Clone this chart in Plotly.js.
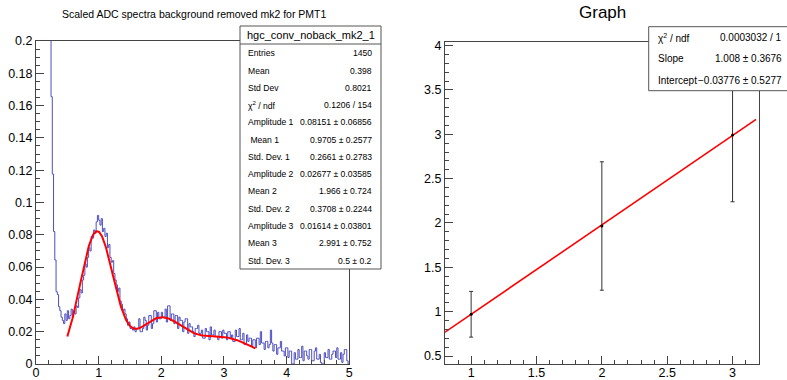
<!DOCTYPE html>
<html>
<head>
<meta charset="utf-8">
<script src="https://cdn.plot.ly/plotly-3.0.1.min.js"></script>
<style>html,body{margin:0;padding:0;background:#fff;}#chart{width:787px;height:380px;}</style>
</head>
<body>
<div id="chart"></div>
<script>
// ---------- Left panel: histogram (bin width 0.02 from 0 to 5) ----------
const binStart = 0;
const binWidth = 0.02;
const histCounts = [
  0.92,0.85,0.78,0.70,0.62,0.55,0.48,0.42,0.36,0.31,
  0.27,0.23,0.1655,0.1176,0.082,0.0644,0.0448,0.043,0.0355,0.033,
  0.029,0.027,0.025,0.031,0.027,0.033,0.028,0.030,0.034,0.029,
  0.033,0.031,0.036,0.035,0.041,0.046,0.044,0.052,0.055,0.062,
  0.060,0.066,0.072,0.070,0.079,0.078,0.083,0.081,0.088,0.092,
  0.089,0.086,0.090,0.082,0.084,0.079,0.081,0.072,0.074,0.066,
  0.063,0.064,0.056,0.052,0.049,0.045,0.047,0.039,0.037,0.033,
  0.034,0.031,0.028,0.024,0.026,0.022,0.022,0.021,0.023,0.020,
  0.022,0.022,0.028,0.020,0.020,0.022,0.029,0.027,0.021,0.024,
  0.030,0.030,0.022,0.025,0.033,0.033,0.026,0.032,0.028,0.028,
  0.032,0.029,0.029,0.034,0.026,0.036,0.036,0.027,0.031,0.031,
  0.025,0.030,0.030,0.022,0.029,0.027,0.027,0.020,0.026,0.028,
  0.028,0.019,0.025,0.023,0.023,0.020,0.017,0.022,0.022,0.024,
  0.019,0.019,0.021,0.016,0.016,0.022,0.020,0.020,0.015,0.023,
  0.018,0.018,0.021,0.017,0.017,0.015,0.020,0.020,0.016,0.021,
  0.019,0.019,0.015,0.020,0.020,0.016,0.018,0.014,0.014,0.021,
  0.017,0.017,0.022,0.015,0.015,0.019,0.012,0.012,0.018,0.014,
  0.016,0.016,0.011,0.015,0.015,0.010,0.016,0.016,0.012,0.020,
  0.013,0.013,0.009,0.014,0.014,0.010,0.012,0.021,0.013,0.008,
  0.012,0.012,0.006,0.010,0.010,0.014,0.008,0.008,0.005,0.010,
  0.010,0.004,0.008,0.008,0.000,0.000,0.007,0.003,0.003,0.009,
  0.004,0.004,0.011,0.002,0.008,0.008,0.005,0.003,0.009,0.009,
  0.002,0.002,0.008,0.010,0.003,0.003,0.006,0.001,0.000,0.000,
  0.007,0.004,0.004,0.009,0.003,0.003,0.006,0.008,0.008,0.004,
  0.010,0.003,0.003,0.007,0.001,0.006,0.009,0.009,0.002,0.000
];
// Fit function: sum of three Gaussians (parameters from the stats box)
const fitAmplitudes = [0.08151, 0.02677, 0.01614];
const fitMeans      = [0.9705, 1.966, 2.991];
const fitSigmas     = [0.2661, 0.3708, 0.5];
const fitRange      = [0.5, 3.5];

const leftStatsLabels = ["Entries","Mean","Std Dev","χ<sup>2</sup> / ndf","Amplitude 1"," Mean 1","Std. Dev. 1","Amplitude 2","Mean 2","Std. Dev. 2","Amplitude 3","Mean 3","Std. Dev. 3"];
const leftStatsValues = ["1450","0.398","0.8021","0.1206 / 154","0.08151 ± 0.06856","0.9705 ± 0.2577","0.2661 ± 0.2783","0.02677 ± 0.03585","1.966 ± 0.724","0.3708 ± 0.2244","0.01614 ± 0.03801","2.991 ± 0.752","0.5 ± 0.2"];

// ---------- Right panel: graph with linear fit ----------
const graphX    = [1, 2, 3];
const graphY    = [0.9705, 1.966, 2.991];
const graphYErr = [0.2577, 0.724, 0.752];
const lineSlope = 1.008;
const lineIntercept = -0.03776;
const lineXRange = [0.8, 3.18];
const rightStatsLabels = ["χ<sup>2</sup> / ndf","Slope","Intercept"];
const rightStatsValues = ["0.0003032 / 1","1.008 ± 0.3676","−0.03776 ± 0.5277"];

// ---------- build traces ----------
const hx = histCounts.map((_, i) => +(binStart + i * binWidth).toFixed(4));
const hy = histCounts.slice();
hx.push(+(binStart + histCounts.length * binWidth).toFixed(4));
hy.push(histCounts[histCounts.length - 1]);

const fx = [], fy = [];
for (let x = fitRange[0]; x <= fitRange[1] + 1e-9; x += 0.01) {
  let v = 0;
  for (let k = 0; k < 3; k++) v += fitAmplitudes[k] * Math.exp(-0.5 * Math.pow((x - fitMeans[k]) / fitSigmas[k], 2));
  fx.push(x); fy.push(v);
}
const lx = lineXRange, ly = lineXRange.map(x => lineSlope * x + lineIntercept);

const FONT = "Liberation Sans, Arial, Helvetica, sans-serif";
const traces = [
  {x: hx, y: hy, type: 'scatter', mode: 'lines', line: {shape: 'hv', color: 'rgb(78,78,192)', width: 1}, xaxis: 'x', yaxis: 'y', hoverinfo: 'skip'},
  {x: fx, y: fy, type: 'scatter', mode: 'lines', line: {color: '#ff0000', width: 2}, xaxis: 'x', yaxis: 'y', hoverinfo: 'skip'},
  {x: lx, y: ly, type: 'scatter', mode: 'lines', line: {color: '#ff0000', width: 1.6}, xaxis: 'x2', yaxis: 'y2', hoverinfo: 'skip'},
  {x: graphX, y: graphY, type: 'scatter', mode: 'markers', marker: {color: '#000', size: 3, symbol: 'circle'},
   error_y: {type: 'data', array: graphYErr, visible: true, color: '#333', thickness: 1, width: 2},
   xaxis: 'x2', yaxis: 'y2', hoverinfo: 'skip'}
];

const W = 787, H = 380;
const px = v => v / W, py = v => 1 - v / H;
const axisCommon = {
  showgrid: false, zeroline: false, showline: true, mirror: true, linecolor: '#444', linewidth: 1,
  ticks: 'inside', ticklen: 8, tickcolor: '#444', tickwidth: 1,
  tickfont: {family: FONT, size: 12.5, color: '#000'}, fixedrange: true
};
const layout = {
  width: W, height: H, margin: {l: 0, r: 0, t: 0, b: 0},
  paper_bgcolor: '#fff', plot_bgcolor: '#fff', showlegend: false,
  xaxis: Object.assign({}, axisCommon, {domain: [px(36), px(349.3)], range: [0, 5], dtick: 1, tick0: 0, ticklabelstandoff: -3,
    minor: {dtick: 0.2, ticklen: 4, tickcolor: '#444', ticks: 'inside'}, anchor: 'y'}),
  yaxis: Object.assign({}, axisCommon, {domain: [py(364), py(41)], range: [0, 0.2], dtick: 0.02, tick0: 0,
    minor: {dtick: 0.005, ticklen: 4, tickcolor: '#444', ticks: 'inside'}, anchor: 'x'}),
  xaxis2: Object.assign({}, axisCommon, {domain: [px(445), px(758.7)], range: [0.8, 3.2], dtick: 0.5, tick0: 0, ticklabelstandoff: -3,
    minor: {dtick: 0.1, ticklen: 4, tickcolor: '#444', ticks: 'inside'}, anchor: 'y2'}),
  yaxis2: Object.assign({}, axisCommon, {domain: [py(364), py(41.5)], range: [0.4098, 4.046], dtick: 0.5, tick0: 0,
    minor: {dtick: 0.1, ticklen: 4, tickcolor: '#444', ticks: 'inside'}, anchor: 'x2'}),
  shapes: [], annotations: []
};

// titles
layout.annotations.push({text: "Scaled ADC spectra background removed mk2 for PMT1", xref: 'paper', yref: 'paper',
  x: px(194), y: py(14), xanchor: 'center', yanchor: 'middle', showarrow: false, font: {family: FONT, size: 10.5, color: '#000'}});
layout.annotations.push({text: "Graph", xref: 'paper', yref: 'paper',
  x: px(602), y: py(12.5), xanchor: 'center', yanchor: 'middle', showarrow: false, font: {family: FONT, size: 17, color: '#000'}});

// left stats box
layout.shapes.push({type: 'rect', xref: 'paper', yref: 'paper', x0: px(240), x1: px(381), y0: py(269), y1: py(26),
  fillcolor: '#fff', line: {color: '#555', width: 1}, layer: 'above'});
layout.shapes.push({type: 'line', xref: 'paper', yref: 'paper', x0: px(240), x1: px(381), y0: py(44), y1: py(44),
  line: {color: '#555', width: 1}, layer: 'above'});
layout.annotations.push({text: "hgc_conv_noback_mk2_1", xref: 'paper', yref: 'paper', x: px(310.5), y: py(35),
  xanchor: 'center', yanchor: 'middle', showarrow: false, font: {family: FONT, size: 11, color: '#000'}});
leftStatsLabels.forEach((t, i) => {
  const yy = py(53.3 + 17.27 * i);
  layout.annotations.push({text: t, xref: 'paper', yref: 'paper', x: px(246), y: yy, xanchor: 'left', yanchor: 'middle',
    showarrow: false, font: {family: FONT, size: 8.6, color: '#000'}});
  layout.annotations.push({text: leftStatsValues[i], xref: 'paper', yref: 'paper', x: px(374), y: yy, xanchor: 'right', yanchor: 'middle',
    showarrow: false, font: {family: FONT, size: 8.6, color: '#000'}});
});

// right stats box
layout.shapes.push({type: 'rect', xref: 'paper', yref: 'paper', x0: px(648.7), x1: px(790), y0: py(90.7), y1: py(26.7),
  fillcolor: '#fff', line: {color: '#555', width: 1}, layer: 'above'});
rightStatsLabels.forEach((t, i) => {
  const yy = py(37.5 + 21.3 * i);
  layout.annotations.push({text: t, xref: 'paper', yref: 'paper', x: px(656), y: yy, xanchor: 'left', yanchor: 'middle',
    showarrow: false, font: {family: FONT, size: 10, color: '#000'}});
  layout.annotations.push({text: rightStatsValues[i], xref: 'paper', yref: 'paper', x: px(784), y: yy, xanchor: 'right', yanchor: 'middle',
    showarrow: false, font: {family: FONT, size: 10, color: '#000'}});
});

Plotly.newPlot('chart', traces, layout, {staticPlot: true, displayModeBar: false});
</script>
</body>
</html>
